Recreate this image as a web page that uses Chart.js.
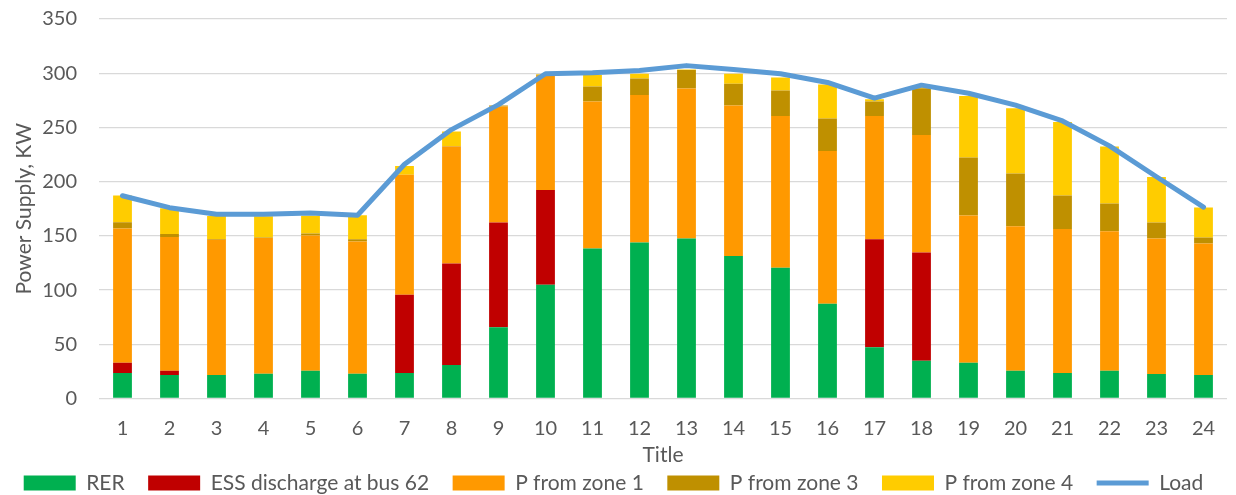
<!DOCTYPE html>
<html>
<head>
<meta charset="utf-8">
<script src="https://cdn.jsdelivr.net/npm/chart.js@4"></script>
<style>
  html, body { margin: 0; padding: 0; background: #fff; }
  #wrap { width: 1236px; height: 495px; }
</style>
</head>
<body>
<div id="wrap"><canvas id="supplyChart"></canvas></div>
<script>
const hours = ['1','2','3','4','5','6','7','8','9','10','11','12','13','14','15','16','17','18','19','20','21','22','23','24'];

const rer = [23.5, 21.7, 21.7, 22.9, 25.7, 22.9, 23.5, 30.9, 65.7, 104.8, 138.3, 143.8, 147.5, 131.5, 120.7, 87.5, 47.3, 34.9, 33.0, 25.7, 23.5, 25.7, 22.6, 21.7];
const essDischarge = [9.5, 4.0, 0, 0, 0, 0, 72.3, 93.5, 96.6, 87.6, 0, 0, 0, 0, 0, 0, 99.6, 99.7, 0, 0, 0, 0, 0, 0];
const zone1 = [123.7, 123.3, 124.6, 125.2, 124.6, 121.8, 110.6, 108.0, 107.0, 105.3, 135.7, 136.0, 138.5, 138.8, 139.8, 140.8, 113.6, 108.4, 135.7, 133.2, 132.9, 128.6, 124.9, 121.2];
const zone3 = [5.9, 2.8, 0.9, 0.5, 1.8, 2.2, 0, 0.5, 1.0, 0.8, 13.8, 15.4, 16.9, 20.0, 23.6, 29.9, 13.5, 43.2, 53.6, 48.6, 30.8, 25.5, 14.8, 5.5];
const zone4 = [24.6, 23.7, 21.2, 19.4, 16.4, 22.2, 8.1, 13.4, 0, 0.5, 10.5, 4.3, 0.6, 9.2, 12.0, 31.3, 2.0, 1.8, 56.7, 60.3, 67.8, 52.6, 41.9, 27.7];
const load = [187, 176, 170, 170, 171, 169, 216, 248, 271, 299.5, 300.5, 302.5, 307, 303.5, 299.5, 291.5, 277, 289, 281.5, 270.5, 256, 233, 204.5, 176.5];

const textColor = '#595959';
const fontFamily = 'Lato, "Open Sans", sans-serif';

function barSet(label, data, color) {
  return {
    type: 'bar',
    label: label,
    data: data,
    backgroundColor: color,
    borderWidth: 0,
    pointStyle: 'rect',
    stack: 'supply',
    order: 1,
    barPercentage: 0.4,
    categoryPercentage: 1.0
  };
}

new Chart(document.getElementById('supplyChart'), {
  data: {
    labels: hours,
    datasets: [
      barSet('RER', rer, '#00B050'),
      barSet('ESS discharge at bus 62', essDischarge, '#C00000'),
      barSet('P from zone 1', zone1, '#FF9900'),
      barSet('P from zone 3', zone3, '#BF9000'),
      barSet('P from zone 4', zone4, '#FFCC00'),
      {
        type: 'line',
        label: 'Load',
        data: load,
        borderColor: '#5B9BD5',
        backgroundColor: '#5B9BD5',
        borderWidth: 5,
        borderCapStyle: 'round',
        borderJoinStyle: 'round',
        pointRadius: 0,
        pointStyle: 'line',
        tension: 0,
        stack: 'load',
        order: 0
      }
    ]
  },
  options: {
    responsive: true,
    maintainAspectRatio: false,
    animation: false,
    layout: { padding: { top: 19, right: 9, left: 0, bottom: -8.5 } },
    plugins: {
      tooltip: { enabled: false },
      legend: {
        position: 'bottom',
        labels: {
          usePointStyle: true,
          pointStyleWidth: 52,
          boxHeight: 15,
          padding: 23.5,
          color: textColor,
          font: { family: fontFamily, size: 21 },
          sort: (a, b) => a.datasetIndex - b.datasetIndex
        }
      }
    },
    scales: {
      x: {
        stacked: true,
        grid: { display: false, drawTicks: false },
        border: { display: false },
        ticks: { color: textColor, font: { family: fontFamily, size: 20 }, padding: 18, maxRotation: 0 },
        title: { display: true, text: 'Title', color: textColor, font: { family: fontFamily, size: 21 }, padding: { top: 0, bottom: -18.6 } },
        afterFit: (scale) => { scale.height = 50.5; }
      },
      y: {
        stacked: true,
        min: 0,
        max: 350,
        grid: { color: '#D9D9D9', lineWidth: 1.3, drawTicks: false },
        border: { display: false },
        ticks: { stepSize: 50, color: textColor, font: { family: fontFamily, size: 20 }, padding: 22 },
        title: { display: true, text: 'Power Supply, KW', color: textColor, font: { family: fontFamily, size: 21 }, padding: { top: 12, bottom: 0 } },
        afterFit: (scale) => {
          scale.width = 99;
          scale.paddingTop = 0;
          scale.paddingBottom = 0;
        }
      }
    }
  }
});
</script>
</body>
</html>
